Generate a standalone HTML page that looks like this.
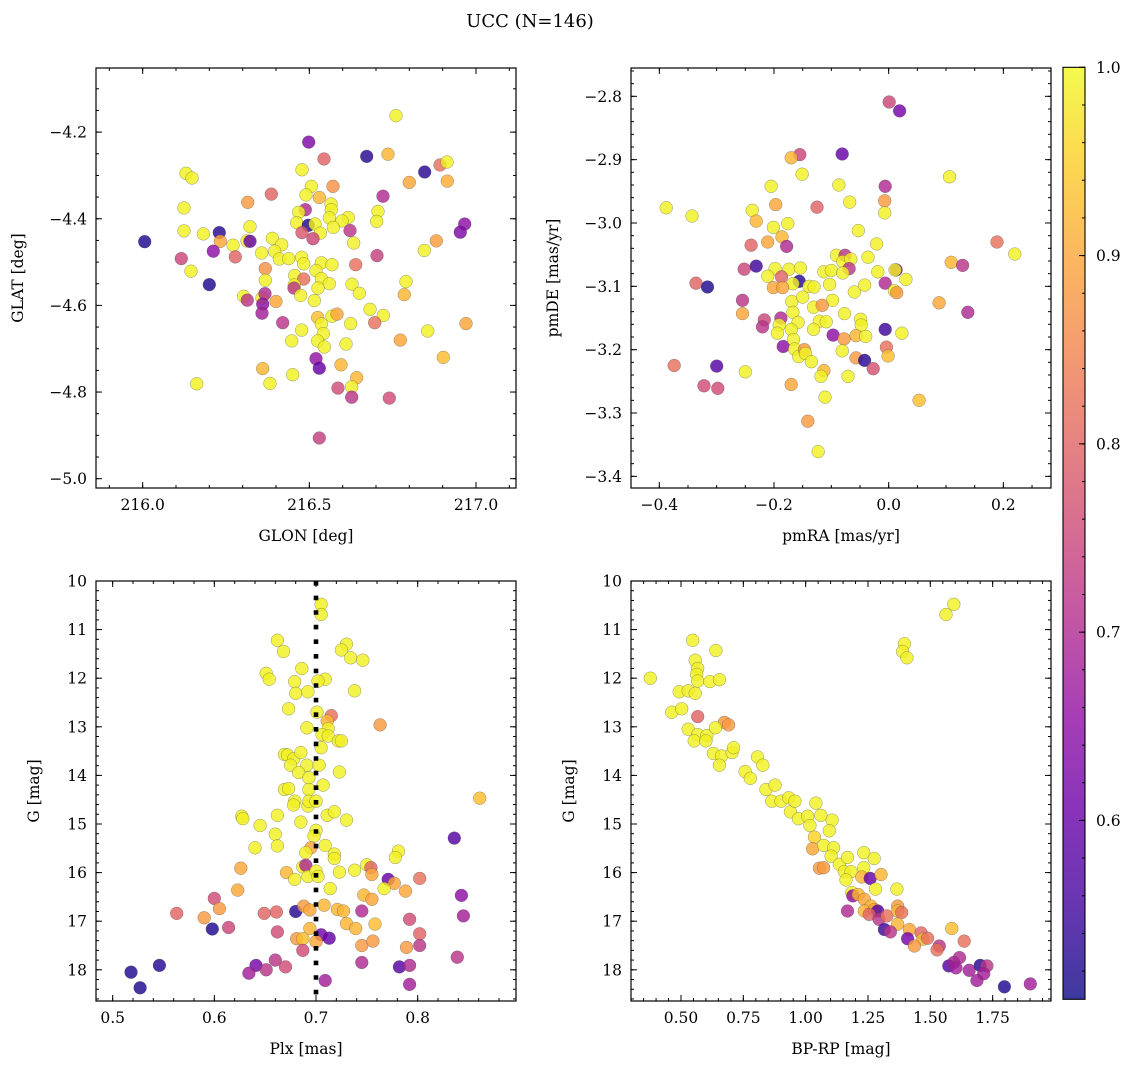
<!DOCTYPE html>
<html><head><meta charset="utf-8">
<style>
body{margin:0;background:#fff;}
svg{display:block;font-family:"DejaVu Serif","Liberation Serif",serif;}
</style></head>
<body>
<svg id="fig" width="1136" height="1067" viewBox="0 0 1136 1067" xmlns="http://www.w3.org/2000/svg">
<defs>
<linearGradient id="plasma" x1="0" y1="1" x2="0" y2="0">
<stop offset="0" stop-color="#0d0887"/><stop offset="0.1" stop-color="#41049d"/>
<stop offset="0.2" stop-color="#6a00a8"/><stop offset="0.3" stop-color="#8f0da4"/>
<stop offset="0.4" stop-color="#b12a90"/><stop offset="0.5" stop-color="#cc4778"/>
<stop offset="0.6" stop-color="#e16462"/><stop offset="0.7" stop-color="#f2844b"/>
<stop offset="0.8" stop-color="#fca636"/><stop offset="0.9" stop-color="#fcce25"/>
<stop offset="1" stop-color="#f0f921"/>
</linearGradient>
</defs>
<text x="530" y="27" font-size="18" text-anchor="middle">UCC (N=146)</text>
</svg>
<script>
// Panel 1: GLON / GLAT
const p1Glon=[216.76,216.498,216.544,216.672,216.736,216.846,216.892,216.913,216.8,216.914,216.13,216.148,216.478,216.506,216.571,216.386,216.49,216.53,216.721,216.315,216.124,216.565,216.566,216.488,216.468,216.706,216.702,216.617,216.598,216.56,216.966,216.953,216.462,216.497,216.517,216.572,216.622,216.478,216.533,216.511,216.006,216.124,216.182,216.23,216.233,216.322,216.313,216.322,216.271,216.389,216.417,216.633,216.845,216.881,216.212,216.116,216.278,216.357,216.396,216.41,216.438,216.477,216.483,216.703,216.639,216.536,216.568,216.145,216.368,216.368,216.52,216.456,216.483,216.536,216.56,216.628,216.79,216.2,216.455,216.454,216.526,216.65,216.785,216.474,216.303,216.314,216.358,216.367,216.4,216.515,216.36,216.358,216.682,216.722,216.568,216.583,216.525,216.42,216.536,216.624,216.696,216.97,216.477,216.542,216.855,216.447,216.525,216.545,216.61,216.773,216.902,216.52,216.53,216.36,216.595,216.642,216.45,216.162,216.382,216.627,216.586,216.627,216.74,216.53];
const p1Glat=[-4.162,-4.223,-4.262,-4.256,-4.251,-4.292,-4.276,-4.269,-4.316,-4.313,-4.295,-4.306,-4.287,-4.325,-4.325,-4.343,-4.345,-4.351,-4.348,-4.362,-4.375,-4.366,-4.379,-4.379,-4.385,-4.383,-4.406,-4.397,-4.405,-4.398,-4.412,-4.431,-4.409,-4.415,-4.412,-4.42,-4.427,-4.432,-4.433,-4.446,-4.453,-4.428,-4.435,-4.432,-4.452,-4.418,-4.451,-4.452,-4.461,-4.445,-4.46,-4.456,-4.473,-4.451,-4.475,-4.492,-4.488,-4.479,-4.475,-4.493,-4.492,-4.489,-4.504,-4.485,-4.506,-4.502,-4.506,-4.521,-4.515,-4.542,-4.52,-4.531,-4.539,-4.538,-4.55,-4.551,-4.545,-4.552,-4.553,-4.56,-4.56,-4.572,-4.575,-4.577,-4.579,-4.588,-4.583,-4.573,-4.591,-4.589,-4.597,-4.618,-4.609,-4.623,-4.625,-4.62,-4.628,-4.64,-4.643,-4.642,-4.64,-4.642,-4.657,-4.665,-4.659,-4.682,-4.682,-4.696,-4.689,-4.68,-4.72,-4.723,-4.745,-4.746,-4.737,-4.767,-4.76,-4.781,-4.78,-4.788,-4.791,-4.812,-4.814,-4.906];
const p1Prob=[0.99,0.63,0.8,0.53,0.92,0.53,0.82,0.99,0.9,0.91,0.99,0.99,0.99,0.99,0.87,0.8,0.99,0.92,0.7,0.88,0.99,0.99,0.99,0.7,0.99,0.99,0.99,0.99,0.99,0.99,0.65,0.63,0.99,0.52,0.99,0.99,0.72,0.78,0.99,0.75,0.52,0.99,0.99,0.53,0.9,0.99,0.99,0.6,0.99,0.99,0.99,0.99,0.99,0.89,0.65,0.75,0.8,0.99,0.99,0.99,0.99,0.99,0.99,0.74,0.82,0.99,0.99,0.99,0.87,0.99,0.99,0.99,0.82,0.99,0.99,0.99,0.99,0.52,0.99,0.72,0.99,0.99,0.92,0.99,0.99,0.72,0.99,0.7,0.9,0.99,0.65,0.68,0.99,0.99,0.99,0.9,0.93,0.72,0.99,0.99,0.82,0.9,0.99,0.99,0.99,0.99,0.99,0.99,0.99,0.9,0.93,0.66,0.6,0.92,0.92,0.92,0.99,0.99,0.99,0.99,0.76,0.72,0.76,0.74];

// Panel 2: pmRA / pmDE
const p2PmRA=[0.001,0.019,-0.155,-0.17,-0.081,-0.151,0.106,-0.205,-0.087,-0.006,-0.388,-0.343,-0.197,-0.125,-0.068,-0.007,-0.007,-0.238,-0.231,-0.201,-0.176,-0.053,-0.186,-0.211,-0.24,-0.178,-0.021,0.189,0.22,-0.091,-0.076,-0.08,-0.066,-0.036,0.109,0.129,-0.252,-0.231,-0.198,-0.174,-0.154,-0.211,-0.113,-0.1,-0.069,-0.08,-0.019,0.013,0.011,0.03,-0.336,-0.316,-0.187,-0.156,-0.167,-0.201,-0.185,-0.139,-0.13,-0.103,-0.006,0.01,0.014,-0.06,-0.042,-0.255,-0.255,-0.169,-0.15,-0.131,-0.098,-0.077,-0.116,-0.167,0.088,0.138,-0.217,-0.22,-0.188,-0.191,-0.158,-0.121,-0.109,-0.194,-0.17,-0.131,-0.049,-0.048,-0.057,-0.04,-0.006,0.023,-0.097,-0.078,-0.184,-0.166,-0.164,-0.157,-0.147,-0.145,-0.135,-0.081,-0.004,-0.001,-0.057,-0.042,-0.027,-0.374,-0.3,-0.25,-0.113,-0.118,-0.071,-0.322,-0.298,-0.17,-0.111,0.053,-0.141,-0.123];
const p2PmDE=[-2.809,-2.823,-2.892,-2.897,-2.891,-2.923,-2.927,-2.942,-2.94,-2.942,-2.976,-2.989,-2.971,-2.975,-2.967,-2.965,-2.984,-2.98,-2.997,-3.007,-3.001,-3.012,-3.022,-3.03,-3.035,-3.037,-3.033,-3.03,-3.049,-3.051,-3.051,-3.061,-3.057,-3.054,-3.062,-3.067,-3.073,-3.068,-3.072,-3.073,-3.071,-3.084,-3.077,-3.075,-3.072,-3.079,-3.077,-3.074,-3.074,-3.089,-3.095,-3.101,-3.085,-3.092,-3.096,-3.102,-3.102,-3.1,-3.101,-3.097,-3.095,-3.107,-3.11,-3.109,-3.098,-3.122,-3.143,-3.124,-3.117,-3.133,-3.122,-3.143,-3.13,-3.141,-3.126,-3.141,-3.153,-3.164,-3.15,-3.161,-3.157,-3.155,-3.156,-3.174,-3.168,-3.168,-3.152,-3.161,-3.178,-3.179,-3.168,-3.174,-3.177,-3.183,-3.195,-3.184,-3.199,-3.211,-3.2,-3.206,-3.219,-3.202,-3.196,-3.21,-3.213,-3.217,-3.23,-3.225,-3.226,-3.235,-3.233,-3.242,-3.242,-3.257,-3.261,-3.255,-3.275,-3.28,-3.313,-3.361];
const p2Prob=[0.75,0.62,0.75,0.92,0.6,0.99,0.99,0.99,0.99,0.7,0.99,0.99,0.9,0.8,0.99,0.88,0.99,0.99,0.92,0.99,0.99,0.99,0.92,0.9,0.8,0.7,0.99,0.82,0.99,0.99,0.72,0.99,0.99,0.99,0.92,0.72,0.75,0.55,0.99,0.99,0.99,0.99,0.99,0.99,0.72,0.99,0.99,0.62,0.99,0.99,0.8,0.52,0.8,0.53,0.99,0.9,0.9,0.99,0.99,0.99,0.7,0.99,0.88,0.99,0.99,0.72,0.9,0.99,0.99,0.99,0.99,0.99,0.88,0.99,0.9,0.7,0.75,0.72,0.7,0.99,0.99,0.99,0.99,0.99,0.99,0.99,0.99,0.99,0.92,0.99,0.55,0.99,0.65,0.88,0.65,0.99,0.99,0.99,0.88,0.99,0.99,0.99,0.82,0.93,0.88,0.53,0.77,0.82,0.58,0.99,0.92,0.99,0.99,0.76,0.76,0.9,0.99,0.93,0.88,0.99];

// Panel 3: Plx / G
const p3Plx=[0.705,0.705,0.662,0.668,0.73,0.725,0.734,0.746,0.686,0.651,0.654,0.679,0.709,0.702,0.68,0.692,0.738,0.673,0.701,0.715,0.711,0.763,0.712,0.691,0.706,0.712,0.722,0.725,0.705,0.669,0.672,0.678,0.685,0.675,0.691,0.703,0.683,0.693,0.723,0.669,0.673,0.693,0.707,0.679,0.678,0.692,0.693,0.7,0.627,0.628,0.645,0.662,0.685,0.711,0.718,0.73,0.7,0.698,0.66,0.662,0.64,0.709,0.695,0.69,0.718,0.718,0.781,0.778,0.626,0.687,0.69,0.671,0.679,0.692,0.7,0.702,0.723,0.738,0.75,0.754,0.755,0.771,0.802,0.777,0.767,0.788,0.836,0.861,0.623,0.714,0.747,0.755,0.843,0.6,0.605,0.563,0.59,0.614,0.598,0.649,0.661,0.68,0.688,0.694,0.708,0.721,0.727,0.745,0.73,0.739,0.758,0.792,0.845,0.662,0.694,0.681,0.687,0.705,0.713,0.7,0.687,0.745,0.756,0.789,0.802,0.802,0.839,0.518,0.527,0.546,0.641,0.634,0.651,0.66,0.67,0.745,0.782,0.792,0.792,0.709];
const p3G=[10.48,10.69,11.22,11.45,11.3,11.42,11.58,11.63,11.8,11.9,12.02,12.07,12.02,12.06,12.31,12.28,12.26,12.63,12.7,12.77,12.88,12.96,13.04,13.02,13.16,13.19,13.29,13.29,13.43,13.57,13.58,13.66,13.53,13.79,13.79,13.79,13.94,14.05,13.93,14.29,14.27,14.29,14.2,14.53,14.61,14.63,14.53,14.53,14.84,14.89,15.03,14.82,14.96,14.82,14.75,14.92,15.13,15.25,15.21,15.45,15.49,15.44,15.49,15.59,15.62,15.71,15.56,15.69,15.91,15.88,15.85,16.0,16.14,16.08,15.97,16.08,15.99,15.95,15.84,15.9,16.04,16.14,16.12,16.22,16.33,16.38,15.29,14.47,16.36,16.33,16.46,16.55,16.47,16.53,16.74,16.84,16.93,17.13,17.16,16.84,16.81,16.8,16.69,16.77,16.67,16.76,16.79,16.79,17.05,17.15,17.06,16.96,16.89,17.22,17.15,17.36,17.36,17.28,17.35,17.42,17.6,17.5,17.41,17.54,17.26,17.5,17.74,18.05,18.37,17.91,17.91,18.07,18.0,17.8,17.94,17.85,17.94,17.91,18.3,18.22];
const p3Prob=[0.99,0.99,0.99,0.99,0.99,0.99,0.99,0.99,0.99,0.99,0.99,0.99,0.99,0.99,0.99,0.99,0.99,0.99,0.99,0.82,0.92,0.88,0.99,0.99,0.99,0.99,0.99,0.99,0.99,0.99,0.99,0.99,0.99,0.99,0.99,0.99,0.99,0.99,0.99,0.99,0.99,0.99,0.99,0.99,0.99,0.99,0.99,0.99,0.99,0.99,0.99,0.99,0.99,0.99,0.99,0.99,0.99,0.99,0.99,0.99,0.99,0.99,0.9,0.99,0.99,0.99,0.99,0.99,0.9,0.99,0.7,0.92,0.99,0.99,0.99,0.99,0.99,0.99,0.99,0.8,0.9,0.6,0.82,0.9,0.99,0.9,0.58,0.93,0.9,0.99,0.92,0.9,0.65,0.76,0.88,0.8,0.88,0.75,0.52,0.8,0.8,0.53,0.88,0.9,0.92,0.92,0.92,0.7,0.92,0.92,0.93,0.76,0.68,0.76,0.92,0.88,0.93,0.62,0.6,0.9,0.76,0.88,0.88,0.88,0.8,0.72,0.72,0.52,0.52,0.53,0.62,0.68,0.72,0.72,0.76,0.7,0.58,0.7,0.68,0.68];

// Panel 4: BP-RP / G
const p4BpRp=[1.594,1.563,1.396,1.389,1.406,0.547,0.64,0.557,0.567,0.563,0.567,0.616,0.654,0.377,0.493,0.529,0.557,0.463,0.503,0.567,0.674,0.691,0.529,0.567,0.553,0.604,0.6,0.638,0.63,0.663,0.654,0.705,0.711,0.757,0.778,0.807,0.828,0.841,0.877,0.864,0.901,0.932,0.939,0.957,0.971,1.008,1.017,1.041,1.061,1.106,1.095,1.035,1.028,1.072,1.112,1.102,1.055,1.072,1.135,1.168,1.155,1.182,1.162,1.233,1.275,1.233,1.225,1.259,1.302,1.28,1.366,1.185,1.189,1.211,1.235,1.262,1.235,1.275,1.289,1.168,1.255,1.294,1.326,1.369,1.369,1.385,1.369,1.316,1.34,1.416,1.409,1.463,1.47,1.436,1.489,1.586,1.636,1.536,1.527,1.574,1.594,1.617,1.603,1.656,1.7,1.727,1.714,1.687,1.797,1.901];
const p4G=[10.48,10.69,11.29,11.45,11.58,11.22,11.43,11.63,11.8,11.92,12.06,12.07,12.03,12.0,12.28,12.26,12.31,12.7,12.63,12.79,12.91,12.96,13.05,13.16,13.29,13.18,13.29,13.02,13.55,13.6,13.79,13.53,13.43,13.92,14.06,13.62,13.79,14.29,14.2,14.53,14.53,14.46,14.75,14.53,14.89,14.84,15.03,14.57,14.82,14.92,15.14,15.27,15.51,15.44,15.49,15.66,15.91,15.9,15.83,15.69,15.98,15.98,16.15,15.59,15.71,15.9,16.09,16.12,16.04,16.34,16.34,16.41,16.48,16.45,16.55,16.69,16.79,16.76,16.79,16.79,16.86,16.96,16.89,16.69,16.79,16.82,17.06,17.17,17.22,17.17,17.36,17.24,17.37,17.51,17.35,17.15,17.41,17.51,17.59,17.92,17.85,17.75,17.96,18.01,17.91,17.92,18.08,18.22,18.35,18.29];
const p4Prob=[0.99,0.99,0.99,0.99,0.99,0.99,0.99,0.99,0.99,0.99,0.99,0.99,0.99,0.99,0.99,0.99,0.99,0.99,0.99,0.8,0.88,0.88,0.99,0.99,0.99,0.99,0.99,0.99,0.99,0.99,0.99,0.99,0.99,0.99,0.99,0.99,0.99,0.99,0.99,0.99,0.99,0.99,0.99,0.99,0.99,0.99,0.99,0.99,0.99,0.99,0.99,0.95,0.9,0.99,0.99,0.99,0.88,0.88,0.99,0.99,0.99,0.99,0.99,0.99,0.99,0.99,0.92,0.6,0.92,0.99,0.99,0.99,0.65,0.92,0.9,0.92,0.92,0.9,0.58,0.7,0.8,0.72,0.82,0.88,0.92,0.82,0.92,0.55,0.72,0.9,0.62,0.8,0.92,0.88,0.82,0.93,0.82,0.72,0.82,0.58,0.68,0.7,0.68,0.68,0.53,0.72,0.68,0.68,0.52,0.68];

// Colorbar
const cbTicks=[0.6,0.7,0.8,0.9,1.0];
const cbMin=0.505, cbMax=1.0;

const NS="http://www.w3.org/2000/svg";
const svg=document.getElementById('fig');
function mk(tag,attrs,parent){const e=document.createElementNS(NS,tag);for(const k in attrs)e.setAttribute(k,attrs[k]);(parent||svg).appendChild(e);return e;}

const stops=[[13,8,135],[65,4,157],[106,0,168],[143,13,164],[177,42,144],[204,71,120],[225,100,98],[242,132,75],[252,166,54],[252,206,37],[240,249,33]];
function plasma(t){t=Math.max(0,Math.min(1,t));const f=t*10;const i=Math.min(9,Math.floor(f));const u=f-i;const a=stops[i],b=stops[i+1];return 'rgb('+[0,1,2].map(k=>Math.round(a[k]+(b[k]-a[k])*u)).join(',')+')';}
function probColor(p){return plasma((p-cbMin)/(cbMax-cbMin));}
function fmtNum(v,d){const s=Math.abs(v).toFixed(d);return (v< -1e-9?'\u2212':'')+s;}

function panel(cfg){
  const {x0,y0,w,h,xL,xR,yT,yB}=cfg;
  const sx=v=>x0+(v-xL)/(xR-xL)*w;
  const sy=v=>y0+(v-yT)/(yB-yT)*h;
  const g=mk('g',{});
  
  
  const pg=mk('g',{},g);
  
  
  for(let i=0;i<cfg.xs.length;i++){
    const c=mk('circle',{cx:sx(cfg.xs[i]).toFixed(1),cy:sy(cfg.ys[i]).toFixed(1),r:6.4,fill:probColor(cfg.cs[i]),'fill-opacity':0.82,stroke:'rgba(70,70,70,0.55)','stroke-width':0.5},pg);
    
    
  }
  if(cfg.vline!==undefined){
    const l=mk('line',{x1:sx(cfg.vline),x2:sx(cfg.vline),y1:y0,y2:y0+h,stroke:'#000','stroke-width':4.6,'stroke-dasharray':'4.6 10'},g);
    
    
  }
  const tg=mk('g',{stroke:'#000','stroke-width':1},g);
  
  
  const xlo=Math.min(xL,xR),xhi=Math.max(xL,xR),ylo=Math.min(yT,yB),yhi=Math.max(yT,yB);
  function each(step,lo,hi,fn){const s=Math.ceil(lo/step-1e-6);const e=Math.floor(hi/step+1e-6);for(let k=s;k<=e;k++)fn(+(k*step).toFixed(6));}
  each(cfg.xMinor,xlo,xhi,v=>{const X=sx(v);mk('line',{x1:X,x2:X,y1:y0+h,y2:y0+h-3},tg);mk('line',{x1:X,x2:X,y1:y0,y2:y0+3},tg);});
  each(cfg.yMinor,ylo,yhi,v=>{const Y=sy(v);mk('line',{x1:x0,x2:x0+3,y1:Y,y2:Y},tg);mk('line',{x1:x0+w,x2:x0+w-3,y1:Y,y2:Y},tg);});
  each(cfg.xMajor,xlo,xhi,v=>{const X=sx(v);mk('line',{x1:X,x2:X,y1:y0+h,y2:y0+h-6},tg);mk('line',{x1:X,x2:X,y1:y0,y2:y0+6},tg);
    const t=mk('text',{x:X,y:y0+h+22,'font-size':15.5,'text-anchor':'middle'},g);t.textContent=fmtNum(v,cfg.xDec);
    });
  each(cfg.yMajor,ylo,yhi,v=>{const Y=sy(v);mk('line',{x1:x0,x2:x0+6,y1:Y,y2:Y},tg);mk('line',{x1:x0+w,x2:x0+w-6,y1:Y,y2:Y},tg);
    const t=mk('text',{x:x0-9,y:Y+5.5,'font-size':15.5,'text-anchor':'end'},g);t.textContent=fmtNum(v,cfg.yDec);
    });
  const fr=mk('rect',{x:x0,y:y0,width:w,height:h,fill:'none',stroke:'#000','stroke-width':1.2},g);
  
  const xt=mk('text',{x:x0+w/2,y:y0+h+53,'font-size':15.5,'text-anchor':'middle'},g);xt.textContent=cfg.xLabel;
  
  const yx=x0-cfg.yLabOff, yy=y0+h/2;
  const yt=mk('text',{x:yx,y:yy,'font-size':15.5,'text-anchor':'middle',transform:'rotate(-90 '+yx+' '+yy+')'},g);yt.textContent=cfg.yLabel;
  
}

panel({name:'glon-glat-panel',x0:96,y0:68,w:420,h:420,xL:215.86,xR:217.12,yT:-4.052,yB:-5.0215,xs:p1Glon,ys:p1Glat,cs:p1Prob,xMajor:0.5,xMinor:0.1,yMajor:0.2,yMinor:0.05,xDec:1,yDec:1,xLabel:'GLON [deg]',yLabel:'GLAT [deg]',yLabOff:73});
panel({name:'pm-panel',x0:631,y0:68,w:420,h:420,xL:-0.4494,xR:0.2831,yT:-2.7553,yB:-3.4184,xs:p2PmRA,ys:p2PmDE,cs:p2Prob,xMajor:0.2,xMinor:0.05,yMajor:0.1,yMinor:0.02,xDec:1,yDec:1,xLabel:'pmRA [mas/yr]',yLabel:'pmDE [mas/yr]',yLabOff:73});
panel({name:'plx-g-panel',x0:96,y0:581,w:420,h:420,xL:0.4836,xR:0.8967,yT:10,yB:18.642,xs:p3Plx,ys:p3G,cs:p3Prob,xMajor:0.1,xMinor:0.02,yMajor:1,yMinor:0.2,xDec:1,yDec:0,xLabel:'Plx [mas]',yLabel:'G [mag]',yLabOff:57,vline:0.7});
panel({name:'cmd-panel',x0:631,y0:581,w:420,h:420,xL:0.2995,xR:1.984,yT:10,yB:18.642,xs:p4BpRp,ys:p4G,cs:p4Prob,xMajor:0.25,xMinor:0.05,yMajor:1,yMinor:0.2,xDec:2,yDec:0,xLabel:'BP-RP [mag]',yLabel:'G [mag]',yLabOff:57});

(function(){
  const x0=1063,y0=67.3,w=22,h=932;
  const sy=v=>y0+(cbMax-v)/(cbMax-cbMin)*h;
  const g=mk('g',{});
  
  
  mk('rect',{x:x0,y:y0,width:w,height:h,fill:'url(#plasma)','fill-opacity':0.8},g);
  mk('rect',{x:x0,y:y0,width:w,height:h,fill:'none',stroke:'#000','stroke-width':1.1},g);
  for(let k=Math.ceil(cbMin/0.02);k<=Math.floor(cbMax/0.02+1e-6);k++){const v=k*0.02;const Y=sy(v);mk('line',{x1:x0+w,x2:x0+w-3,y1:Y,y2:Y,stroke:'#000'},g);}
  cbTicks.forEach(v=>{const Y=sy(v);mk('line',{x1:x0+w,x2:x0+w-6,y1:Y,y2:Y,stroke:'#000'},g);
    const t=mk('text',{x:x0+w+11,y:Y+5.5,'font-size':15.5},g);t.textContent=v.toFixed(1);
    });
})();
</script>
</body></html>
